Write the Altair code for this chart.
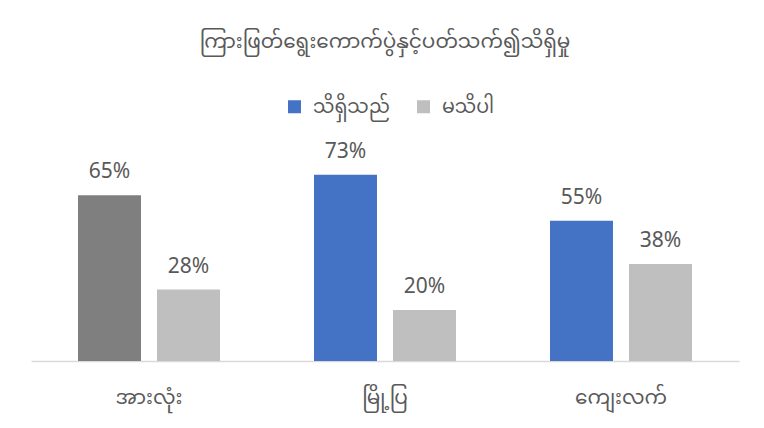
import altair as alt
import pandas as pd

categories = ["အားလုံး", "မြို့ပြ", "ကျေးလက်"]
series = ["သိရှိသည်", "မသိပါ"]
known = [0.65, 0.73, 0.55]
unknown = [0.28, 0.20, 0.38]
title_text = "ကြားဖြတ်ရွေးကောက်ပွဲနှင့်ပတ်သက်၍သိရှိမှု"

rows = []
for c, k, u in zip(categories, known, unknown):
    rows.append({"category": c, "series": series[0], "value": k})
    rows.append({"category": c, "series": series[1], "value": u})
df = pd.DataFrame(rows)

FONT = "Noto Sans Myanmar, Padauk, Myanmar Text, Noto Sans, sans-serif"
NUMFONT = "Noto Sans, sans-serif"
TXT = "#595959"

x = alt.X("category:N", sort=categories,
          scale=alt.Scale(paddingInner=94 / 236, paddingOuter=47 / 236),
          axis=alt.Axis(title=None, labelAngle=0, ticks=False, domainColor="#d9d9d9",
                        domainWidth=1.5, labelFontSize=20, labelColor=TXT,
                        labelFont=FONT, labelPadding=26))
xo = alt.XOffset("series:N", sort=series,
                 scale=alt.Scale(paddingInner=16 / 79, paddingOuter=0))
y = alt.Y("value:Q", scale=alt.Scale(domain=[0, 0.8]), axis=None)

color = alt.condition(
    f"datum.category == '{categories[0]}' && datum.series == '{series[0]}'",
    alt.value("#7f7f7f"),
    alt.Color("series:N", sort=series,
              scale=alt.Scale(domain=series, range=["#4472c4", "#bfbfbf"]),
              legend=alt.Legend(title=None, orient="none", direction="horizontal",
                                legendX=254, legendY=-60, symbolType="square",
                                symbolSize=169, symbolStrokeWidth=0,
                                labelFontSize=19, labelColor=TXT, labelFont=FONT,
                                columnPadding=24, labelOffset=9)),
)

base = alt.Chart(df).encode(x=x, xOffset=xo, y=y)
bars = base.mark_bar().encode(color=color)
labels = base.mark_text(baseline="alphabetic", dy=-17, fontSize=21, color=TXT,
                        font=NUMFONT).encode(text=alt.Text("value:Q", format=".0%"))

chart = alt.layer(bars, labels).properties(
    width=708, height=204,
    title=alt.TitleParams(title_text, fontSize=20, color=TXT, font=FONT,
                          fontWeight="normal", anchor="middle", offset=45),
    padding={"left": 23, "top": 149, "right": 17, "bottom": 59},
    autosize=alt.AutoSizeParams(type="none"),
).configure_view(stroke=None)

chart.save("out.html", embed_options={"renderer": "svg", "actions": False})
